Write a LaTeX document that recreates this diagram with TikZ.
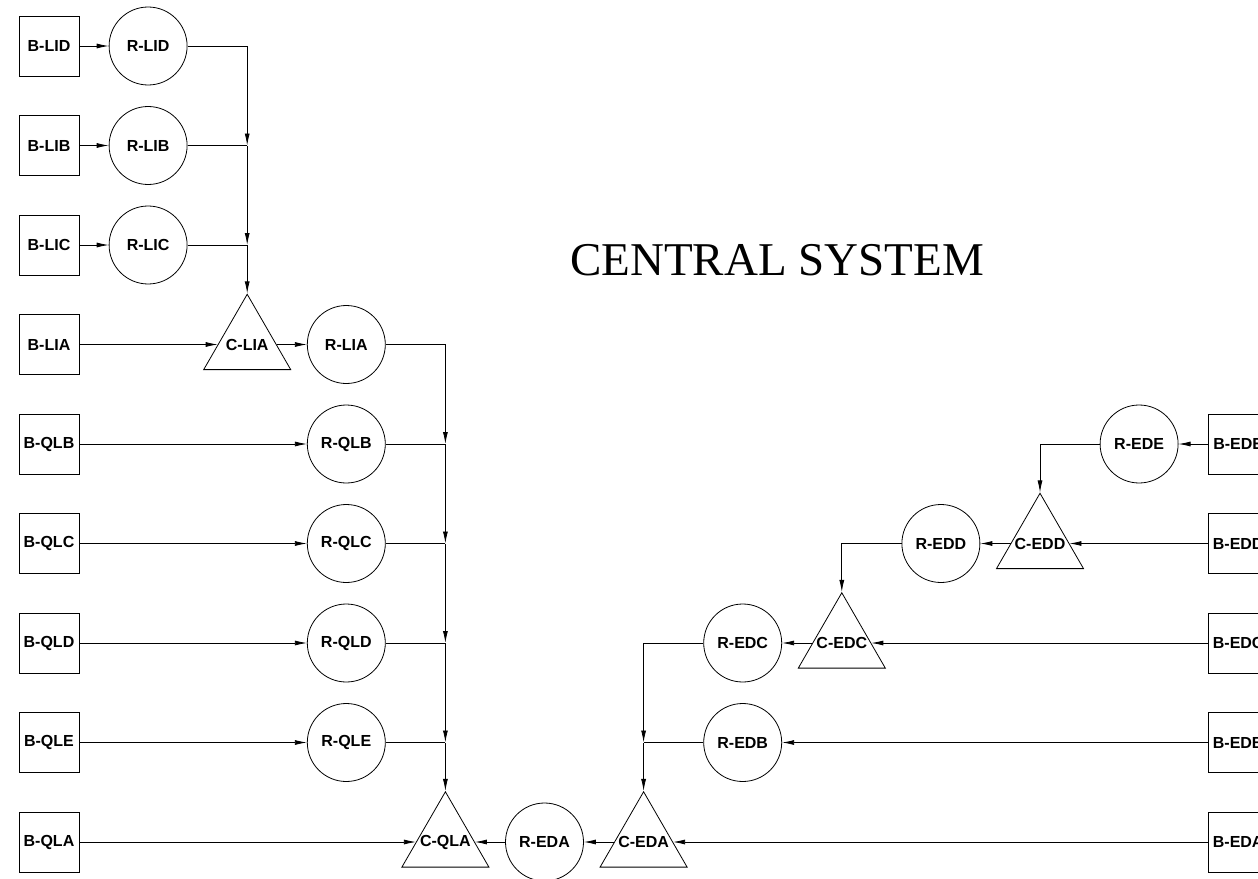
\documentclass[tikz,border=0pt]{standalone}
\usepackage{fontspec}
\setmainfont{Liberation Serif}
\setsansfont{Liberation Sans}
\usepackage{tikz}
\usetikzlibrary{shapes.geometric, arrows.meta, positioning, calc}
\tikzset{
  lbl/.style={font=\fontsize{16}{18}\selectfont\sffamily\bfseries},
  srcbox/.style={rectangle, draw, minimum width=60pt, minimum height=60pt, inner sep=0pt, lbl},
  resnode/.style={circle, draw, minimum size=78pt, inner sep=0pt, lbl},
  cmbnode/.style={regular polygon, regular polygon sides=3, draw, minimum size=100.5pt, inner sep=0pt,
    label={[lbl, inner sep=0pt]center:#1}},
  flow/.style={-{Latex[length=12pt, width=5pt]}},
}

\begin{document}
\begin{tikzpicture}[x=99.1pt, y=-99.5pt, line width=0.8pt]
  \useasboundingbox (-49pt,46pt) rectangle (1209pt,-832pt);
  % left feeders
  \node[srcbox] (blid) at (0,0) {B-LID};
  \node[srcbox] (blib) at (0,1) {B-LIB};
  \node[srcbox] (blic) at (0,2) {B-LIC};
  \node[srcbox] (blia) at (0,3) {B-LIA};
  \node[srcbox] (bqlb) at (0,4) {B-QLB};
  \node[srcbox] (bqlc) at (0,5) {B-QLC};
  \node[srcbox] (bqld) at (0,6) {B-QLD};
  \node[srcbox] (bqle) at (0,7) {B-QLE};
  \node[srcbox] (bqla) at (0,8) {B-QLA};
  \node[resnode] (rlid) at (1,0) {R-LID};
  \node[resnode] (rlib) at (1,1) {R-LIB};
  \node[resnode] (rlic) at (1,2) {R-LIC};
  \node[cmbnode=C-LIA] (clia) at (2,3) {};
  \node[resnode] (rlia) at (3,3) {R-LIA};
  \node[resnode] (rqlb) at (3,4) {R-QLB};
  \node[resnode] (rqlc) at (3,5) {R-QLC};
  \node[resnode] (rqld) at (3,6) {R-QLD};
  \node[resnode] (rqle) at (3,7) {R-QLE};
  \node[cmbnode=C-QLA] (cqla) at (4,8) {};
  % right feeders
  \node[resnode] (reda) at (5,8) {R-EDA};
  \node[cmbnode=C-EDA] (ceda) at (6,8) {};
  \node[resnode] (redc) at (7,6) {R-EDC};
  \node[resnode] (redb) at (7,7) {R-EDB};
  \node[cmbnode=C-EDC] (cedc) at (8,6) {};
  \node[resnode] (redd) at (9,5) {R-EDD};
  \node[cmbnode=C-EDD] (cedd) at (10,5) {};
  \node[resnode] (rede) at (11,4) {R-EDE};
  \node[srcbox] (bede) at (12,4) {B-EDE};
  \node[srcbox] (bedd) at (12,5) {B-EDD};
  \node[srcbox] (bedc) at (12,6) {B-EDC};
  \node[srcbox] (bedb) at (12,7) {B-EDB};
  \node[srcbox] (beda) at (12,8) {B-EDA};
  \node[font=\fontsize{47}{50}\selectfont, anchor=base, inner sep=0pt] (title) at (728pt,-229pt) {CENTRAL SYSTEM};
  % junctions
  \coordinate (jlib) at (2,1);
  \coordinate (jlic) at (2,2);
  \coordinate (jqlb) at (4,4);
  \coordinate (jqlc) at (4,5);
  \coordinate (jqld) at (4,6);
  \coordinate (jqle) at (4,7);
  \coordinate (jedb) at (6,7);
  % LI branch
  \draw[flow] (blid) -- (rlid); \draw[flow] (blib) -- (rlib); \draw[flow] (blic) -- (rlic);
  \draw[flow] (rlid) -| (jlib); \draw (rlib) -- (jlib); \draw[flow] (jlib) -- (jlic);
  \draw (rlic) -- (jlic); \draw[flow] (jlic) -- (clia.corner 1);
  \draw[flow] (blia) -- (clia); \draw[flow] (clia) -- (rlia);
  % QL branch
  \draw[flow] (bqlb) -- (rqlb); \draw[flow] (bqlc) -- (rqlc);
  \draw[flow] (bqld) -- (rqld); \draw[flow] (bqle) -- (rqle);
  \draw[flow] (rlia) -| (jqlb); \draw (rqlb) -- (jqlb); \draw[flow] (jqlb) -- (jqlc);
  \draw (rqlc) -- (jqlc); \draw[flow] (jqlc) -- (jqld);
  \draw (rqld) -- (jqld); \draw[flow] (jqld) -- (jqle);
  \draw (rqle) -- (jqle); \draw[flow] (jqle) -- (cqla.corner 1);
  \draw[flow] (bqla) -- (cqla);
  % ED branch
  \draw[flow] (bede) -- (rede); \draw[flow] (rede) -| (cedd.corner 1);
  \draw[flow] (bedd) -- (cedd); \draw[flow] (cedd) -- (redd);
  \draw[flow] (redd) -| (cedc.corner 1);
  \draw[flow] (bedc) -- (cedc); \draw[flow] (cedc) -- (redc);
  \draw[flow] (redc) -| (jedb); \draw[flow] (bedb) -- (redb); \draw (redb) -- (jedb);
  \draw[flow] (jedb) -- (ceda.corner 1);
  \draw[flow] (beda) -- (ceda); \draw[flow] (ceda) -- (reda); \draw[flow] (reda) -- (cqla);
\end{tikzpicture}
\end{document}
